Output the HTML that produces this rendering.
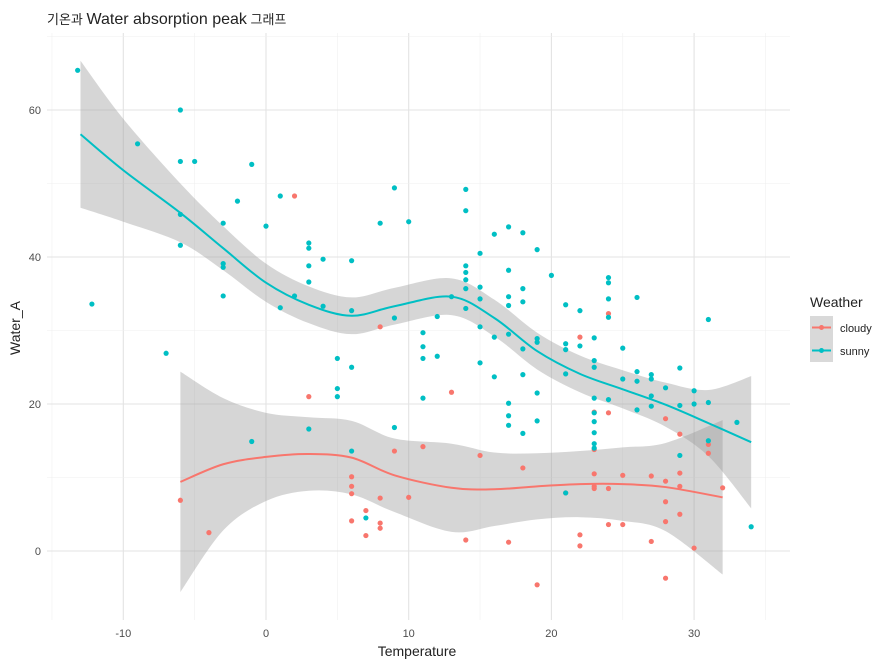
<!DOCTYPE html>
<html><head><meta charset="utf-8"><style>
body{margin:0;background:#fff;}
svg text{font-family:"Liberation Sans","Noto Sans CJK KR",sans-serif;}
</style></head><body>
<svg id="chart" width="891" height="666" xmlns="http://www.w3.org/2000/svg">
<text x="47" y="24" font-size="13" fill="#222">기온과 <tspan font-size="16">Water absorption peak</tspan> 그래프</text>
<g id="grid"></g>
<g id="bands"></g>
<g id="pts"></g>
<g id="lines"></g>
<g id="axes"></g>
<text x="417" y="656" font-size="14" text-anchor="middle" fill="#222">Temperature</text>
<text transform="translate(20,328) rotate(-90)" font-size="14" text-anchor="middle" fill="#222">Water_A</text>
<g>
<text x="810" y="307" font-size="14" fill="#222">Weather</text>
<rect x="810" y="316" width="23" height="23" fill="#d9d9d9"/>
<rect x="810" y="339" width="23" height="23" fill="#d9d9d9"/>
<line x1="812" y1="327.5" x2="831" y2="327.5" stroke="#F8766D" stroke-width="2"/><circle cx="821.5" cy="327.5" r="2.5" fill="#F8766D"/>
<line x1="812" y1="350.5" x2="831" y2="350.5" stroke="#00BFC4" stroke-width="2"/><circle cx="821.5" cy="350.5" r="2.5" fill="#00BFC4"/>
<text x="840" y="332" font-size="11" fill="#222">cloudy</text>
<text x="840" y="355" font-size="11" fill="#222">sunny</text>
</g>
</svg>
<script>
const xTicks=[-10,0,10,20,30];
const yTicks=[0,20,40,60];
const sunnyT=[-13.2,-12.2,-9,-7,-6,-6,-6,-6,-5,-3,-3,-3,-3,-2,-1,-1,0,1,1,2,3,3,3,3,3,4,4,5,5,5,6,6,6,6,7,8,9,9,9,10,11,11,11,11,12,12,13,14,14,14,14,14,14,14,15,15,15,15,15,16,16,16,17,17,17,17,17,17,17,17,18,18,18,18,18,18,19,19,19,19,19,20,21,21,21,21,21,22,22,23,23,23,23,23,23,23,23,23,24,24,24,24,24,25,25,26,26,26,26,27,27,27,27,28,29,29,29,30,30,31,31,31,33,34];
const sunnyW=[65.4,33.6,55.4,26.9,60,53,45.8,41.6,53,44.6,39.1,38.6,34.7,47.6,52.6,14.9,44.2,48.3,33.1,34.7,16.6,41.9,41.2,38.8,36.6,39.7,33.3,26.2,22.1,21,39.5,32.7,25,13.6,4.5,44.6,49.4,31.7,16.8,44.8,29.7,27.8,26.2,20.8,26.5,31.9,34.6,49.2,46.3,38.8,37.9,36.9,35.7,33,40.5,35.9,34.3,30.5,25.6,43.1,29.1,23.7,44.1,38.2,34.6,33.4,29.5,20.1,18.4,17.1,43.3,35.7,33.9,27.5,24,16,41,28.9,28.4,21.5,17.7,37.5,33.5,28.2,27.4,24.1,7.9,32.7,27.9,29,25.9,25,20.8,18.8,17.6,16.1,14.6,14,37.2,36.5,34.3,31.8,20.6,27.6,23.4,34.5,24.4,23.1,19.2,24,23.4,21.1,19.7,22.2,24.9,19.8,13,21.8,20,31.5,20.2,15,17.5,3.3];
const cloudyT=[-6,-4,2,3,6,6,6,6,7,7,8,8,8,8,9,10,11,13,14,15,17,18,19,21,22,22,22,23,23,23,23,23,24,24,24,24,25,25,27,27,28,28,28,28,29,29,29,29,30,31,31,32,28];
const cloudyW=[6.9,2.5,48.3,21,10.1,8.8,7.8,4.1,5.5,2.1,7.2,3.8,3.1,30.5,13.6,7.3,14.2,21.6,1.5,13,1.2,11.3,-4.6,7.9,29.1,2.2,0.7,18.9,8.5,8.8,10.5,13.8,32.3,18.8,8.5,3.6,10.3,3.6,1.3,10.2,9.5,6.7,4,-3.7,15.9,10.6,8.8,5,0.4,13.3,14.5,8.6,18];
const sunFitT=[-13,-10,-6,-3,0,3,6,9,13,16,19,22,25,28,31,34];
const sunFitW=[56.7,51.8,46,41.2,36.5,33.5,32,33.3,34.6,31.7,27.2,24.1,22,19.9,17.4,14.8];
const sunSE=[10,7,4,3,2.6,2.5,2.5,2.5,2.5,2.5,2.5,2.5,2.6,3,4.5,9];
const cloFitT=[-6,-3,0,3,6,9,13,16,19,22,25,28,32];
const cloFitW=[9.4,11.8,12.8,13.2,12.7,10.3,8.6,8.4,8.8,9.1,9.1,8.7,7.3];
const cloSE=[15,9,6,5,5,5,6,5,4.5,4.5,5,6,10.5];

const NS="http://www.w3.org/2000/svg";
const L=47,R=790,T=33,B=620;
const X=t=>266+t*14.27;
const Y=w=>551-w*7.35;
function mk(tag,attrs,parent){const e=document.createElementNS(NS,tag);for(const k in attrs)e.setAttribute(k,attrs[k]);document.getElementById(parent).appendChild(e);return e;}
function smooth(p,start){let d=start?'M'+p[0][0]+','+p[0][1]:'L'+p[0][0]+','+p[0][1];
for(let i=0;i<p.length-1;i++){const p0=p[i-1]||p[i],p1=p[i],p2=p[i+1],p3=p[i+2]||p2;
const c1=[p1[0]+(p2[0]-p0[0])/6,p1[1]+(p2[1]-p0[1])/6],c2=[p2[0]-(p3[0]-p1[0])/6,p2[1]-(p3[1]-p1[1])/6];
d+=' C'+c1+' '+c2+' '+p2;}return d;}
mk('rect',{x:L,y:T,width:R-L,height:B-T,fill:'#fff'},'grid');
for(let t=-15;t<=35;t+=5){const e=mk('line',{x1:X(t),x2:X(t),y1:T,y2:B,stroke:(t%10===0)?'#e3e3e3':'#f0f0f0','stroke-width':(t%10===0)?1.1:0.6},'grid');

}
for(let w=-10;w<=70;w+=10){const y=Y(w);if(y<T||y>B)continue;const e=mk('line',{x1:L,x2:R,y1:y,y2:y,stroke:(w%20===0)?'#e3e3e3':'#f0f0f0','stroke-width':(w%20===0)?1.1:0.6},'grid');

}
xTicks.forEach(t=>{const e=mk('text',{x:X(t),y:637,'font-size':11,'text-anchor':'middle',fill:'#4d4d4d'},'axes');e.textContent=t;

});
yTicks.forEach(w=>{const e=mk('text',{x:41,y:Y(w)+4,'font-size':11,'text-anchor':'end',fill:'#4d4d4d'},'axes');e.textContent=w;

});
function band(ts,ws,se,name){const up=ts.map((t,i)=>[X(t),Y(ws[i]+se[i])]);const lo=ts.map((t,i)=>[X(t),Y(ws[i]-se[i])]).reverse();
const e=mk('path',{d:smooth(up,true)+' '+smooth(lo,false)+' Z',fill:'#999','fill-opacity':0.4},'bands');

}
band(sunFitT,sunFitW,sunSE,'sunny-confidence-band');
band(cloFitT,cloFitW,cloSE,'cloudy-confidence-band');
function pts(ts,ws,col,name){ts.forEach((t,i)=>{const e=mk('circle',{cx:X(t),cy:Y(ws[i]),r:2.6,fill:col},'pts');

});}
pts(cloudyT,cloudyW,'#F8766D','cloudy-point');
pts(sunnyT,sunnyW,'#00BFC4','sunny-point');
function line(ts,ws,col,name){const e=mk('path',{d:smooth(ts.map((t,i)=>[X(t),Y(ws[i])]),true),fill:'none',stroke:col,'stroke-width':2},'lines');

}
line(cloFitT,cloFitW,'#F8766D','cloudy-smooth-line');
line(sunFitT,sunFitW,'#00BFC4','sunny-smooth-line');
</script>
</body></html>
